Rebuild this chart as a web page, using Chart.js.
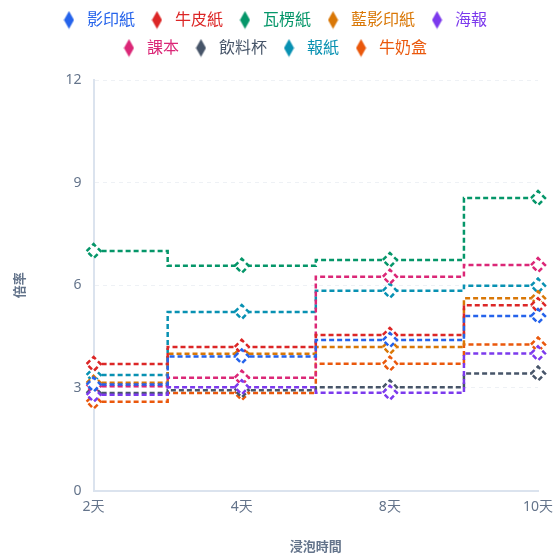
<!DOCTYPE html>
<html><head><meta charset="utf-8">
<script src="https://cdn.jsdelivr.net/npm/chart.js@4"></script>
<style>html,body{margin:0;padding:0;background:#fff}#wrap{width:558px;height:555px}</style>
</head><body><div id="wrap"><canvas id="c"></canvas></div>
<script>
const categories = ['2天','4天','8天','10天'];
const seriesNames = ['影印紙','牛皮紙','瓦楞紙','藍影印紙','海報','課本','飲料杯','報紙','牛奶盒'];
const seriesColors = ['#2563eb','#dc2626','#059669','#d97706','#7c3aed','#db2777','#475569','#0891b2','#ea580c'];
const copyPaper = [3.1, 3.92, 4.4, 5.1];
const kraftPaper = [3.7, 4.2, 4.55, 5.42];
const cardboard = [7.0, 6.57, 6.74, 8.55];
const blueprintPaper = [3.15, 4.0, 4.2, 5.62];
const poster = [2.8, 3.02, 2.86, 4.01];
const textbook = [3.05, 3.3, 6.25, 6.59];
const drinkCup = [2.85, 2.93, 3.02, 3.42];
const newspaper = [3.38, 5.22, 5.84, 5.99];
const milkCarton = [2.6, 2.85, 3.71, 4.27];
const yTicks = [0, 3, 6, 9, 12];
const seriesValues = [copyPaper, kraftPaper, cardboard, blueprintPaper, poster, textbook, drinkCup, newspaper, milkCarton];

const FONT = "'Noto Sans', 'Noto Sans CJK TC', sans-serif";

function legendGlyph(color){
  const c = document.createElement('canvas');
  c.width = 11; c.height = 19;
  const g = c.getContext('2d');
  g.fillStyle = color;
  g.beginPath();
  g.moveTo(5.5, 0.5); g.lineTo(10.5, 9.5); g.lineTo(5.5, 18.5); g.lineTo(0.5, 9.5);
  g.closePath(); g.fill();
  return c;
}
const glyphs = seriesColors.map(legendGlyph);

const dashPlugin = {
  id: 'dashPoints',
  beforeDatasetDraw(chart){ chart.ctx.save(); chart.ctx.setLineDash([5,3]); },
  afterDatasetDraw(chart){ chart.ctx.restore(); }
};
const legendRowPlugin = {
  id: 'legendRows',
  beforeLayout(chart){
    const lg = chart.legend;
    if (lg && !lg._rowPatched){
      const orig = lg._fitRows;
      lg._fitRows = function(...a){
        const mw = this.maxWidth; this.maxWidth = mw - 70;
        const r = orig.apply(this, a);
        this.maxWidth = mw; return r + 14;
      };
      lg._rowPatched = true;
    }
  }
};

new Chart(document.getElementById('c'), {
  type: 'line',
  data: {
    labels: categories,
    datasets: seriesNames.map((n,i)=>({
      label: n,
      data: seriesValues[i],
      borderColor: seriesColors[i],
      backgroundColor: seriesColors[i],
      borderWidth: 2.5,
      borderDash: [5,3],
      stepped: 'middle',
      pointStyle: 'rectRot',
      pointRadius: 7,
      pointHoverRadius: 7,
      pointBorderWidth: 2.5,
      pointBackgroundColor: '#ffffff',
      pointBorderColor: seriesColors[i],
      fill: false
    }))
  },
  options: {
    responsive: true,
    maintainAspectRatio: false,
    animation: false,
    layout: { padding: { left: 8, right: 20, top: 0, bottom: 0 } },
    plugins: {
      legend: {
        position: 'top',
        labels: {
          usePointStyle: true,
          pointStyleWidth: 20,
          padding: 12,
          font: { family: FONT, size: 16 },
          generateLabels(chart){
            return chart.data.datasets.map((ds,i)=>({
              text: ds.label, fillStyle: ds.borderColor, strokeStyle: ds.borderColor,
              fontColor: ds.borderColor, lineWidth: 0, pointStyle: glyphs[i],
              hidden: !chart.isDatasetVisible(i), datasetIndex: i
            }));
          }
        }
      },
      tooltip: { enabled: false }
    },
    scales: {
      x: {
        grid: { display: false },
        border: { display: true, color: '#dbe3ee', width: 2 },
        ticks: { color: '#64748b', font: { family: FONT, size: 14 }, padding: 0 },
        title: { display: true, text: '浸泡時間', color: '#64748b', font: { family: FONT, size: 13, weight: 'bold' }, padding: { top: 24, bottom: 0 } }
      },
      y: {
        min: 0, max: 12,
        afterBuildTicks(scale){ scale.ticks = yTicks.map(v=>({value:v})); },
        grid: { color: '#eef1f5', lineWidth: 1, drawTicks: false },
        border: { display: true, color: '#dbe3ee', width: 2, dash: [4,4] },
        ticks: { color: '#64748b', font: { family: FONT, size: 14 }, padding: 12 },
        title: { display: true, text: '倍率', color: '#64748b', font: { family: FONT, size: 13, weight: 'bold' }, padding: { bottom: 26 } }
      }
    }
  },
  plugins: [dashPlugin, legendRowPlugin]
});
</script></body></html>
